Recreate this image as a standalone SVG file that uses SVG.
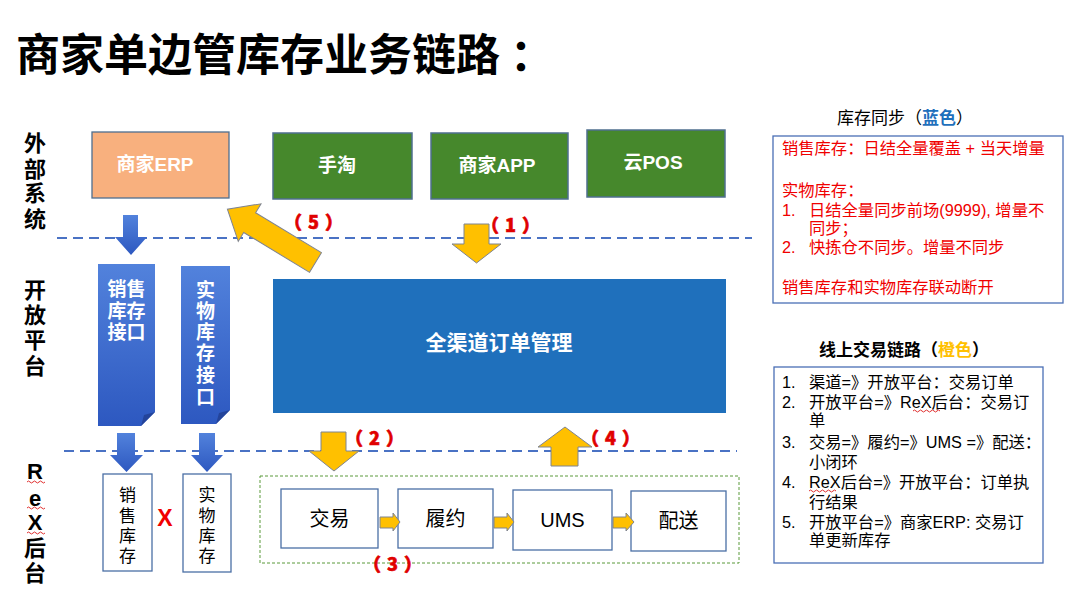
<svg xmlns="http://www.w3.org/2000/svg" width="1070" height="597" viewBox="0 0 1070 597">
<defs>
<linearGradient id="gBlue" x1="0" y1="0" x2="0" y2="1">
<stop offset="0" stop-color="#5282DC"/>
<stop offset="1" stop-color="#2D58C0"/>
</linearGradient>
<style>
text{font-family:"Liberation Sans","Noto Sans CJK SC",sans-serif;dominant-baseline:central}
.title{font-size:44px;font-weight:bold;fill:#000}
.side{font-size:22px;font-weight:bold;fill:#000;text-anchor:middle}
.wt{font-size:19px;font-weight:bold;fill:#fff;text-anchor:middle}
.bt{font-size:20px;fill:#000;text-anchor:middle}
.vt{font-size:17px;fill:#000;text-anchor:middle}
.num{font-family:"Noto Sans CJK SC",sans-serif;font-size:18px;font-weight:900;fill:#E00000;letter-spacing:6px;stroke:#E00000;stroke-width:0.6}
.red{font-size:16.3px;fill:#F00000}
.blk{font-size:16.3px;fill:#000}
.hd{font-size:17px;fill:#000;text-anchor:middle}
.green{fill:#46882C;stroke:#4F6F8F;stroke-width:1.5}
.wbox{fill:#fff;stroke:#4A6FA5;stroke-width:1.3}
.yel{fill:#FFC000;stroke:#7F8490;stroke-width:1}
.dash{stroke:#4A72C4;stroke-width:2;stroke-dasharray:10 6;fill:none}
.wavy{fill:none;stroke:#E03030;stroke-width:1}
</style>
</defs>
<rect width="1070" height="597" fill="#fff"/>

<text class="title" x="16" y="55">商家单边管库存业务链路<tspan x="510">：</tspan></text>

<g id="side-labels">
<text class="side" x="35" y="143">外</text>
<text class="side" x="35" y="169">部</text>
<text class="side" x="35" y="193">系</text>
<text class="side" x="35" y="219">统</text>
<text class="side" x="35" y="290">开</text>
<text class="side" x="35" y="315">放</text>
<text class="side" x="35" y="340">平</text>
<text class="side" x="35" y="366">台</text>
<text class="side" x="35" y="471">R</text>
<text class="side" x="35" y="498">e</text>
<text class="side" x="35" y="522">X</text>
<text class="side" x="35" y="548">后</text>
<text class="side" x="35" y="573">台</text>
<path class="wavy" d="M27,482 q1.5,-2 3,0 t3,0 t3,0 t3,0 t3,0 t3,0"/>
<path class="wavy" d="M27,508 q1.5,-2 3,0 t3,0 t3,0 t3,0 t3,0 t3,0"/>
<path class="wavy" d="M27,533 q1.5,-2 3,0 t3,0 t3,0 t3,0 t3,0 t3,0"/>
</g>

<g id="lanes">
<line class="dash" x1="57" y1="238" x2="752" y2="238"/>
<line class="dash" x1="64" y1="451" x2="737" y2="451"/>
</g>

<g id="erp">
<rect x="92" y="132" width="137" height="66" fill="#F8B07E" stroke="#4F6F8F" stroke-width="1.3"/>
<text class="wt" x="155" y="164">商家ERP</text>
</g>
<g id="shoutao">
<rect class="green" x="273" y="133" width="139" height="66"/>
<text class="wt" x="337" y="165">手淘</text>
</g>
<g id="shangjia-app">
<rect class="green" x="431" y="133" width="137" height="66"/>
<text class="wt" x="497" y="165">商家APP</text>
</g>
<g id="yun-pos">
<rect class="green" x="587" y="130" width="138" height="67"/>
<text class="wt" x="653" y="162">云POS</text>
</g>

<g id="order-mgmt">
<rect x="273" y="279" width="453" height="134" fill="#1F70BC"/>
<text class="wt" x="499" y="342" style="font-size:21px">全渠道订单管理</text>
</g>

<g id="sales-api">
<path d="M98,264 H155 V412 L141,426 H98 Z" fill="url(#gBlue)"/>
<path d="M141,426 L144,415 L155,412 Z" fill="#24449A"/>
<text class="wt" x="126.5" y="289">销售</text>
<text class="wt" x="126.5" y="311">库存</text>
<text class="wt" x="126.5" y="332">接口</text>
</g>
<g id="phys-api">
<path d="M181,266 H230 V410 L216,424 H181 Z" fill="url(#gBlue)"/>
<path d="M216,424 L219,413 L230,410 Z" fill="#24449A"/>
<text class="wt" x="205.5" y="290">实</text>
<text class="wt" x="205.5" y="311">物</text>
<text class="wt" x="205.5" y="332">库</text>
<text class="wt" x="205.5" y="353">存</text>
<text class="wt" x="205.5" y="375">接</text>
<text class="wt" x="205.5" y="397">口</text>
</g>

<g id="sales-stock">
<rect class="wbox" x="103" y="474" width="49" height="97"/>
<text class="vt" x="127.5" y="495">销</text>
<text class="vt" x="127.5" y="516">售</text>
<text class="vt" x="127.5" y="536">库</text>
<text class="vt" x="127.5" y="556">存</text>
</g>
<g id="phys-stock">
<rect class="wbox" x="183" y="474" width="48" height="98"/>
<text class="vt" x="207" y="495">实</text>
<text class="vt" x="207" y="516">物</text>
<text class="vt" x="207" y="536">库</text>
<text class="vt" x="207" y="556">存</text>
</g>
<text x="165" y="518" style="font-size:23px;font-weight:bold;fill:#F00000;text-anchor:middle">X</text>

<g id="rex-group">
<rect x="260" y="476" width="479" height="87" fill="none" stroke="#5A9A3A" stroke-width="1" stroke-dasharray="3 2"/>
</g>
<g id="jiaoyi">
<rect class="wbox" x="281" y="489" width="97" height="59"/>
<text class="bt" x="329.5" y="519">交易</text>
</g>
<g id="lvyue">
<rect class="wbox" x="398" y="489" width="95" height="59"/>
<text class="bt" x="445.5" y="519">履约</text>
</g>
<g id="ums">
<rect class="wbox" x="513" y="490" width="99" height="60"/>
<text class="bt" x="562.5" y="520">UMS</text>
</g>
<g id="peisong">
<rect class="wbox" x="631" y="491" width="95" height="60"/>
<text class="bt" x="678.5" y="521">配送</text>
</g>

<g id="connectors">
<polygon points="123,215 138,215 138,237 147,237 131,255 115,237 123,237" fill="url(#gBlue)"/>
<polygon points="117,433 135,433 135,455 143,455 126.5,472 110,455 117,455" fill="url(#gBlue)"/>
<polygon points="199,433 215,433 215,455 223,455 207,472 191,455 199,455" fill="url(#gBlue)"/>
<polygon class="yel" points="464,224 489,224 489,244 501,244 476.5,263 452,244 464,244"/>
<polygon class="yel" points="321,432 346,432 346,451 359,451 334,471 309,451 321,451"/>
<polygon class="yel" points="551,466 578,466 578,447 592,447 565,427 538,447 551,447"/>
<polygon class="yel" points="0,-11.5 77,-11.5 77,-22 103,0 77,22 77,11.5 0,11.5" transform="translate(315.5,262.5) rotate(211.2)"/>
<polygon class="yel" points="380,517 393,517 393,513 400,522 393,531 393,528 380,528"/>
<polygon class="yel" points="494,517 507,517 507,513 514,522 507,531 507,528 494,528"/>
<polygon class="yel" points="613,517 626,517 626,513 634,522 626,531 626,528 613,528"/>
</g>

<g id="step-labels">
<text class="num" x="481" y="224">（1）</text>
<text class="num" x="345" y="437">（2）</text>
<text class="num" x="363" y="563">（3）</text>
<text class="num" x="581" y="437">（4）</text>
<text class="num" x="284" y="221">（5）</text>
</g>

<g id="legend-stock">
<text class="hd" x="905" y="118">库存同步（<tspan fill="#1F70BC" font-weight="bold">蓝色</tspan>）</text>
<rect x="773" y="136" width="290" height="167" fill="#fff" stroke="#4A6FB5" stroke-width="1.3"/>
<text class="red" x="782" y="148">销售库存：日结全量覆盖 + 当天增量</text>
<text class="red" x="782" y="190">实物库存：</text>
<text class="red" x="782" y="210">1.</text>
<text class="red" x="809" y="210">日结全量同步前场(9999), 增量不</text>
<text class="red" x="809" y="228">同步；</text>
<text class="red" x="782" y="247">2.</text>
<text class="red" x="809" y="247">快拣仓不同步。增量不同步</text>
<text class="red" x="782" y="287">销售库存和实物库存联动断开</text>
</g>

<g id="legend-trade">
<text class="hd" x="904" y="350" font-weight="bold">线上交易链路（<tspan fill="#FFC000">橙色</tspan>）</text>
<rect x="774" y="367" width="269" height="196" fill="#fff" stroke="#4A6FB5" stroke-width="1.3"/>
<text class="blk" x="782" y="382">1.</text>
<text class="blk" x="809" y="382">渠道=》开放平台：交易订单</text>
<text class="blk" x="782" y="402">2.</text>
<text class="blk" x="809" y="402">开放平台=》ReX后台：交易订</text>
<text class="blk" x="809" y="420">单</text>
<text class="blk" x="782" y="442">3.</text>
<text class="blk" x="809" y="442">交易=》履约=》UMS =》配送：</text>
<text class="blk" x="809" y="462">小闭环</text>
<text class="blk" x="782" y="482">4.</text>
<text class="blk" x="809" y="482">ReX后台=》开放平台：订单执</text>
<text class="blk" x="809" y="502">行结果</text>
<text class="blk" x="782" y="522">5.</text>
<text class="blk" x="809" y="522">开放平台=》商家ERP: 交易订</text>
<text class="blk" x="809" y="540">单更新库存</text>
<path class="wavy" d="M913,411 q1.5,-2 3,0 t3,0 t3,0 t3,0 t3,0 t3,0 t3,0 t3,0 t3,0"/>
<path class="wavy" d="M809,491 q1.5,-2 3,0 t3,0 t3,0 t3,0 t3,0 t3,0 t3,0 t3,0 t3,0"/>
</g>
</svg>
